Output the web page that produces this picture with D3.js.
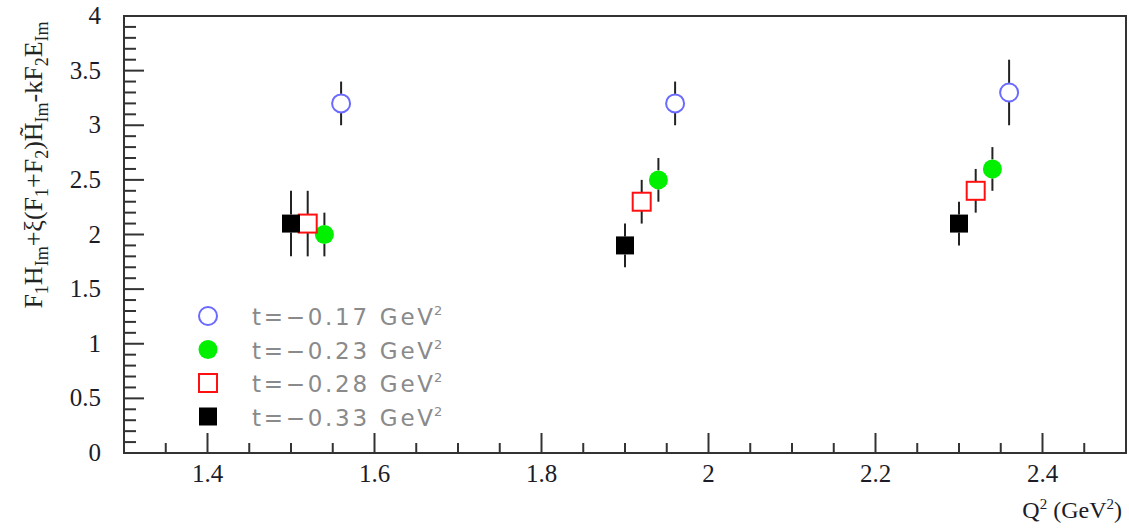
<!DOCTYPE html>
<html>
<head>
<meta charset="utf-8">
<script src="https://cdn.jsdelivr.net/npm/d3@7"></script>
<style>
  html, body { margin: 0; padding: 0; background: #fff; }
  svg { display: block; }
</style>
</head>
<body>
<svg id="chart" width="1129" height="530"></svg>
<script>
// Q^2 positions (slightly offset per t-bin), values and errors for each t-bin
const t017Q = [1.56, 1.96, 2.36];
const t017Val = [3.2, 3.2, 3.3];
const t017Err = [0.2, 0.2, 0.3];

const t023Q = [1.54, 1.94, 2.34];
const t023Val = [2.0, 2.5, 2.6];
const t023Err = [0.2, 0.2, 0.2];

const t028Q = [1.52, 1.92, 2.32];
const t028Val = [2.1, 2.3, 2.4];
const t028Err = [0.3, 0.2, 0.2];

const t033Q = [1.50, 1.90, 2.30];
const t033Val = [2.1, 1.9, 2.1];
const t033Err = [0.3, 0.2, 0.2];

const legendLabels = ["t=\u22120.17 GeV", "t=\u22120.23 GeV", "t=\u22120.28 GeV", "t=\u22120.33 GeV"];
const xTickLabels = [1.4, 1.6, 1.8, 2.0, 2.2, 2.4];
const yTickLabels = [0, 0.5, 1, 1.5, 2, 2.5, 3, 3.5, 4];

const series = [
  { q: t017Q, v: t017Val, e: t017Err, shape: "circle", fill: "none", stroke: "#6a6aff", label: legendLabels[0] },
  { q: t023Q, v: t023Val, e: t023Err, shape: "circle", fill: "#00f000", stroke: "none", label: legendLabels[1] },
  { q: t028Q, v: t028Val, e: t028Err, shape: "square", fill: "#fff", stroke: "#ff1010", label: legendLabels[2] },
  { q: t033Q, v: t033Val, e: t033Err, shape: "square", fill: "#000", stroke: "none", label: legendLabels[3] }
];

const svg = d3.select("#chart");
const frameLeft = 124, frameRight = 1126, frameTop = 16, frameBottom = 453;

const x = d3.scaleLinear().domain([1.3, 2.5]).range([frameLeft, frameRight]);
const y = d3.scaleLinear().domain([0, 4]).range([frameBottom, frameTop]);

const frameColor = "#333";
const labelFont = "'Liberation Serif', 'Times New Roman', serif";

// frame
svg.append("rect")
  .attr("x", frameLeft).attr("y", frameTop)
  .attr("width", frameRight - frameLeft).attr("height", frameBottom - frameTop)
  .attr("fill", "none").attr("stroke", frameColor).attr("stroke-width", 2);

// x ticks (inward)
const xMinor = d3.range(1.35, 2.5, 0.05).map(d => +d.toFixed(2));
svg.append("g").selectAll("line").data(xMinor).join("line")
  .attr("x1", d => x(d)).attr("x2", d => x(d))
  .attr("y1", frameBottom).attr("y2", d => frameBottom - (xTickLabels.some(t => Math.abs(t - d) < 1e-6) ? 20 : 10))
  .attr("stroke", frameColor).attr("stroke-width", 2);

// y ticks (inward)
const yMinor = d3.range(0.1, 4, 0.1).map(d => +d.toFixed(1));
svg.append("g").selectAll("line").data(yMinor).join("line")
  .attr("y1", d => y(d)).attr("y2", d => y(d))
  .attr("x1", frameLeft).attr("x2", d => frameLeft + (yTickLabels.some(t => Math.abs(t - d) < 1e-6) ? 20 : 12))
  .attr("stroke", frameColor).attr("stroke-width", 2);

// tick labels
svg.append("g").selectAll("text").data(xTickLabels).join("text")
  .attr("x", d => x(d)).attr("y", 482)
  .attr("text-anchor", "middle")
  .attr("font-family", labelFont).attr("font-size", 25).attr("fill", "#1c1c28")
  .text(d => d3.format("~g")(d));

svg.append("g").selectAll("text").data(yTickLabels).join("text")
  .attr("x", 101).attr("y", d => y(d) + 8)
  .attr("text-anchor", "end")
  .attr("font-family", labelFont).attr("font-size", 25).attr("fill", "#1c1c28")
  .text(d => d3.format("~g")(d));

// x-axis title
const xt = svg.append("text")
  .attr("x", 1122).attr("y", 518)
  .attr("text-anchor", "end")
  .attr("font-family", labelFont).attr("font-size", 24).attr("fill", "#1c1c28");
xt.append("tspan").text("Q");
xt.append("tspan").attr("dy", -9).attr("font-size", 15).text("2");
xt.append("tspan").attr("dy", 9).text(" (GeV");
xt.append("tspan").attr("dy", -9).attr("font-size", 15).text("2");
xt.append("tspan").attr("dy", 9).text(")");

// y-axis title
const yt = svg.append("text")
  .attr("transform", "translate(42,165) rotate(-90)")
  .attr("text-anchor", "middle")
  .attr("font-family", labelFont).attr("font-size", 26).attr("fill", "#222");
const parts = [
  ["F", 0], ["1", 1], ["H", 0], ["Im", 1], ["+\u03BE(F", 0], ["1", 1], ["+F", 0], ["2", 1],
  [")H\u0303", 0], ["Im", 1], ["-kF", 0], ["2", 1], ["E", 0], ["Im", 1]
];
let prevSub = 0;
parts.forEach(([t, sub]) => {
  const dy = (sub - prevSub) * 6;
  yt.append("tspan").attr("dy", dy).attr("font-size", sub ? 18 : 26).text(t);
  prevSub = sub;
});

// markers and error bars
const sq = 18, rad = 9.5;
function drawMarker(g, shape, cx, cy, s) {
  if (shape === "circle") {
    g.append("circle").attr("cx", cx).attr("cy", cy)
      .attr("r", s.fill === "none" ? rad - 0.5 : rad)
      .attr("fill", s.fill === "none" ? "none" : s.fill)
      .attr("stroke", s.stroke).attr("stroke-width", 2);
  } else {
    g.append("rect").attr("x", cx - sq / 2).attr("y", cy - sq / 2)
      .attr("width", sq).attr("height", sq)
      .attr("fill", s.fill).attr("stroke", s.stroke).attr("stroke-width", 2);
  }
}

const plot = svg.append("g");
series.forEach(s => {
  s.q.forEach((q, i) => {
    const cx = x(q), cy = y(s.v[i]);
    const half = s.shape === "circle" ? rad : sq / 2;
    plot.append("line").attr("x1", cx).attr("x2", cx)
      .attr("y1", y(s.v[i] + s.e[i])).attr("y2", cy - half)
      .attr("stroke", "#222").attr("stroke-width", 2);
    plot.append("line").attr("x1", cx).attr("x2", cx)
      .attr("y1", cy + half).attr("y2", y(s.v[i] - s.e[i]))
      .attr("stroke", "#222").attr("stroke-width", 2);
    drawMarker(plot, s.shape, cx, cy, s);
  });
});

// legend
const legendRows = [316, 349.5, 383, 416.5];
const legend = svg.append("g");
series.forEach((s, i) => {
  drawMarker(legend, s.shape, 208, legendRows[i], s);
  legend.append("text")
    .attr("x", 252).attr("y", legendRows[i] + 9)
    .attr("font-family", "'DejaVu Sans', sans-serif")
    .attr("font-size", 23).attr("fill", "#8a8a8a")
    .attr("textLength", 181).attr("lengthAdjust", "spacing")
    .text(s.label);
  legend.append("text")
    .attr("x", 434).attr("y", legendRows[i] - 1)
    .attr("font-family", "'DejaVu Sans', sans-serif")
    .attr("font-size", 13).attr("fill", "#8a8a8a")
    .text("2");
});
</script>
</body>
</html>
